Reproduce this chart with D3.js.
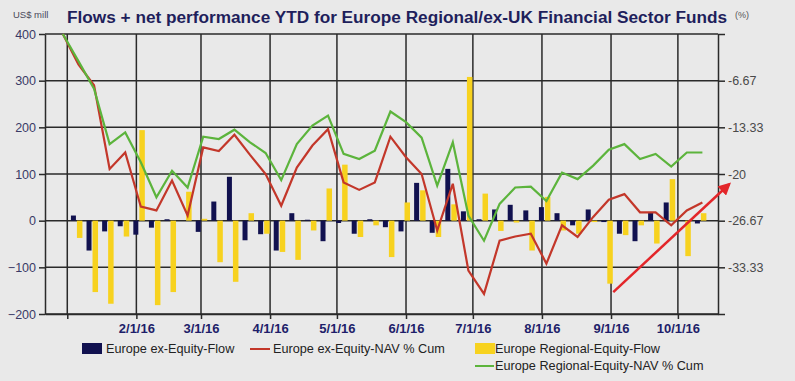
<!DOCTYPE html>
<html>
<head>
<meta charset="utf-8">
<script src="https://cdn.jsdelivr.net/npm/d3@7"></script>
<style>
  body { margin: 0; background: #e9e9e9; }
  svg { display: block; font-family: Arial, 'Liberation Sans', sans-serif; }
</style>
</head>
<body>
<div id="chartDiv"></div>
<script>
// weekly dates (first one is the start point of the cumulative lines)
const weekDates = [
  '2015-12-30',
  '2016-01-06', '2016-01-13', '2016-01-20', '2016-01-27',
  '2016-02-03', '2016-02-10', '2016-02-17', '2016-02-24',
  '2016-03-02', '2016-03-09', '2016-03-16', '2016-03-23', '2016-03-30',
  '2016-04-06', '2016-04-13', '2016-04-20', '2016-04-27',
  '2016-05-04', '2016-05-11', '2016-05-18', '2016-05-25',
  '2016-06-01', '2016-06-08', '2016-06-15', '2016-06-22', '2016-06-29',
  '2016-07-06', '2016-07-13', '2016-07-20', '2016-07-27',
  '2016-08-03', '2016-08-10', '2016-08-17', '2016-08-24', '2016-08-31',
  '2016-09-07', '2016-09-14', '2016-09-21', '2016-09-28',
  '2016-10-05', '2016-10-12'
];

// flows, US$ mill (one per week, from weekDates[1])
const exEquityFlow = [
  11, -64, -23, -12, -30, -15, 3, 0, -24, 41, 94, -42, -29, -64, 16, 2, -44, -5, -28, 3,
  -14, -23, 81, -26, 111, 20, 3, 24, 34, 22, 29, 16, -10, 24, -3, -28, -44, 17, 39, 0, -6
];
const regionalEquityFlow = [
  -37, -153, -178, -34, 194, -181, -153, 62, 4, -89, -131, 16, -28, -67, -84, -21, 69, 120, -35, -10,
  -78, 39, 65, -35, 35, 308, 58, -22, -4, -64, 51, -21, -28, -3, -135, -31, -10, -49, 89, -76, 16
];

// cumulative NAV, %
const exEquityNav = [
  0, -4.33, -7.33, -19.27, -16.93, -24.67, -25.2, -20.93, -25.93, -16.2, -16.73, -14.4, -17.27, -20,
  -24.53, -19.07, -15.93, -13.6, -21.2, -22.27, -21.2, -14.67, -17.6, -20, -28.07, -21.4, -33.8, -37.13,
  -29.53, -28.93, -28.53, -32.8, -27.33, -29, -26.13, -23.67, -22.87, -25.47, -25.47, -27.33, -25.2, -24.07
];
const regionalEquityNav = [
  0, -3.87, -7.8, -15.73, -14.07, -18.33, -23.33, -19.53, -21.93, -14.67, -15, -13.67, -15.47, -17,
  -20.87, -15.73, -13.07, -11.67, -17.13, -17.87, -16.67, -11.07, -12.6, -14.8, -21.67, -15.47, -25.93, -29.53,
  -24.27, -21.93, -21.8, -23.87, -19.8, -20.73, -18.8, -16.53, -15.73, -17.87, -17.13, -18.93, -16.93, -16.93
];

const monthTicks = ['2016-01-01', '2016-02-01', '2016-03-01', '2016-04-01', '2016-05-01',
  '2016-06-01', '2016-07-01', '2016-08-01', '2016-09-01', '2016-10-01'];
const monthLabels = ['', '2/1/16', '3/1/16', '4/1/16', '5/1/16', '6/1/16', '7/1/16', '8/1/16', '9/1/16', '10/1/16'];
const flowTicks = [-200, -100, 0, 100, 200, 300, 400];
const navTicks = [0, -6.67, -13.33, -20, -26.67, -33.33, -40];
const navLabels = ['', '-6.67', '-13.33', '-20', '-26.67', '-33.33', ''];

const legendLabels = ['Europe ex-Equity-Flow', 'Europe ex-Equity-NAV % Cum',
  'Europe Regional-Equity-Flow', 'Europe Regional-Equity-NAV % Cum'];

// red annotation arrow (date, US$ mill)
const arrowStart = ['2016-09-02', -153];
const arrowEnd = ['2016-10-24', 78];

const parseDate = d3.timeParse('%Y-%m-%d');

class FlowChart {
  constructor() {
    this.svgWidth = 795;
    this.svgHeight = 381;
    this.left = 45;
    this.right = 718;
    this.top = 34;
    this.bottom = 314;

    this.navy = '#11114f';
    this.yellow = '#f7d21f';
    this.red = '#c3372a';
    this.green = '#5cb43c';
    this.gridColor = '#2a2a2a';

    this.x = d3.scaleTime()
      .domain([parseDate('2015-12-22'), parseDate('2016-10-19')])
      .range([this.left, this.right]);
    this.y = d3.scaleLinear()
      .domain([-200, 400])
      .range([this.bottom, this.top]);
    this.yNav = d3.scaleLinear()
      .domain([-40, 0])
      .range([this.bottom, this.top]);
  }

  /**
   * Builds the whole chart.
   */
  createChart() {
    this.svg = d3.select('#chartDiv').append('svg')
      .attr('width', this.svgWidth)
      .attr('height', this.svgHeight);

    this.svg.append('rect')
      .attr('width', this.svgWidth)
      .attr('height', this.svgHeight)
      .attr('fill', '#e9e9e9');

    this.createTitle();
    this.createGrid();
    this.createBars();
    this.createLines();
    this.createAxes();
    this.createArrow();
    this.createLegend();
  }

  createTitle() {
    this.svg.append('text')
      .attr('x', 67)
      .attr('y', 23)
      .attr('textLength', 660)
      .attr('lengthAdjust', 'spacingAndGlyphs')
      .style('font-size', '16px')
      .style('font-weight', 'bold')
      .attr('fill', '#1f1f5c')
      .text('Flows + net performance YTD for Europe Regional/ex-UK Financial Sector Funds');

    this.svg.append('text')
      .attr('x', 13)
      .attr('y', 18)
      .style('font-size', '9.5px')
      .attr('fill', '#4a4a5a')
      .text('US$ mill');

    this.svg.append('text')
      .attr('x', 735)
      .attr('y', 18)
      .style('font-size', '9px')
      .attr('fill', '#555')
      .text('(%)');
  }

  createGrid() {
    let grid = this.svg.append('g')
      .attr('id', 'grid')
      .attr('stroke', this.gridColor)
      .attr('stroke-width', 1.5);

    grid.selectAll('.hLine')
      .data(flowTicks)
      .enter()
      .append('line')
      .attr('class', 'hLine')
      .attr('x1', this.left)
      .attr('x2', this.right)
      .attr('y1', d => this.y(d))
      .attr('y2', d => this.y(d));

    grid.selectAll('.vLine')
      .data(monthTicks.map(parseDate))
      .enter()
      .append('line')
      .attr('class', 'vLine')
      .attr('x1', d => this.x(d))
      .attr('x2', d => this.x(d))
      .attr('y1', this.top)
      .attr('y2', this.bottom);
  }

  createBars() {
    let flowDates = weekDates.slice(1).map(parseDate);
    let bars = this.svg.append('g').attr('id', 'bars');

    bars.selectAll('.navyBar')
      .data(exEquityFlow)
      .enter()
      .append('rect')
      .attr('class', 'navyBar')
      .attr('x', (d, i) => this.x(flowDates[i]) - 7.5)
      .attr('width', 5)
      .attr('y', d => this.y(Math.max(0, d)))
      .attr('height', d => Math.abs(this.y(d) - this.y(0)))
      .attr('fill', this.navy);

    bars.selectAll('.yellowBar')
      .data(regionalEquityFlow)
      .enter()
      .append('rect')
      .attr('class', 'yellowBar')
      .attr('x', (d, i) => this.x(flowDates[i]) - 1.5)
      .attr('width', 5.5)
      .attr('y', d => this.y(Math.max(0, d)))
      .attr('height', d => Math.abs(this.y(d) - this.y(0)))
      .attr('fill', this.yellow);
  }

  createLines() {
    let dates = weekDates.map(parseDate);
    let line = d3.line()
      .x((d, i) => this.x(dates[i]))
      .y(d => this.yNav(d));

    this.svg.append('path')
      .datum(exEquityNav)
      .attr('d', line)
      .attr('fill', 'none')
      .attr('stroke', this.red)
      .attr('stroke-width', 2.2);

    this.svg.append('path')
      .datum(regionalEquityNav)
      .attr('d', line)
      .attr('fill', 'none')
      .attr('stroke', this.green)
      .attr('stroke-width', 2.2);
  }

  createAxes() {
    let leftAxis = d3.axisLeft(this.y)
      .tickValues(flowTicks)
      .tickSize(6)
      .tickSizeOuter(0)
      .tickPadding(3);

    let rightAxis = d3.axisRight(this.yNav)
      .tickValues(navTicks)
      .tickFormat((d, i) => navLabels[i])
      .tickSize(7)
      .tickSizeOuter(0)
      .tickPadding(3);

    let bottomAxis = d3.axisBottom(this.x)
      .tickValues(monthTicks.map(parseDate))
      .tickFormat((d, i) => monthLabels[i])
      .tickSize(5)
      .tickSizeOuter(0)
      .tickPadding(5);

    let gLeft = this.svg.append('g')
      .attr('transform', `translate(${this.left}, 0)`)
      .call(leftAxis);
    gLeft.selectAll('text')
      .style('font-size', '12.5px')
      .attr('fill', '#3a3a66');

    let gRight = this.svg.append('g')
      .attr('transform', `translate(${this.right}, 0)`)
      .call(rightAxis);
    gRight.selectAll('text')
      .style('font-size', '12.5px')
      .attr('fill', '#4a4a4a');

    let gBottom = this.svg.append('g')
      .attr('transform', `translate(0, ${this.bottom})`)
      .call(bottomAxis);
    gBottom.selectAll('text')
      .style('font-size', '13px')
      .style('font-weight', 'bold')
      .attr('fill', '#1e1e6a');

    [gLeft, gRight, gBottom].forEach(g => {
      g.select('.domain').attr('stroke', this.gridColor).attr('stroke-width', 1.5);
      g.selectAll('.tick line').attr('stroke', this.gridColor).attr('stroke-width', 1.5);
    });
  }

  createArrow() {
    this.svg.append('defs')
      .append('marker')
      .attr('id', 'arrowHead')
      .attr('viewBox', '0 0 10 10')
      .attr('refX', 8)
      .attr('refY', 5)
      .attr('markerWidth', 5)
      .attr('markerHeight', 5)
      .attr('orient', 'auto')
      .append('path')
      .attr('d', 'M0,0 L10,5 L0,10 z')
      .attr('fill', '#e3262a');

    this.svg.append('line')
      .attr('x1', this.x(parseDate(arrowStart[0])))
      .attr('y1', this.y(arrowStart[1]))
      .attr('x2', this.x(parseDate(arrowEnd[0])))
      .attr('y2', this.y(arrowEnd[1]))
      .attr('stroke', '#e3262a')
      .attr('stroke-width', 2.5)
      .attr('marker-end', 'url(#arrowHead)');
  }

  createLegend() {
    let legend = this.svg.append('g')
      .attr('id', 'legend')
      .style('font-size', '12.7px')
      .attr('fill', '#222');

    legend.append('rect')
      .attr('x', 82).attr('y', 343)
      .attr('width', 20).attr('height', 11)
      .attr('fill', this.navy);
    legend.append('text').attr('x', 106).attr('y', 353).text(legendLabels[0]);

    legend.append('line')
      .attr('x1', 250).attr('x2', 270)
      .attr('y1', 349).attr('y2', 349)
      .attr('stroke', this.red).attr('stroke-width', 2);
    legend.append('text').attr('x', 273).attr('y', 353).text(legendLabels[1]);

    legend.append('rect')
      .attr('x', 475).attr('y', 343)
      .attr('width', 20).attr('height', 11)
      .attr('fill', this.yellow);
    legend.append('text').attr('x', 495).attr('y', 353).text(legendLabels[2]);

    legend.append('line')
      .attr('x1', 475).attr('x2', 494)
      .attr('y1', 366).attr('y2', 366)
      .attr('stroke', this.green).attr('stroke-width', 2);
    legend.append('text').attr('x', 495).attr('y', 370).text(legendLabels[3]);
  }
}

let chart = new FlowChart();
chart.createChart();
</script>
</body>
</html>
